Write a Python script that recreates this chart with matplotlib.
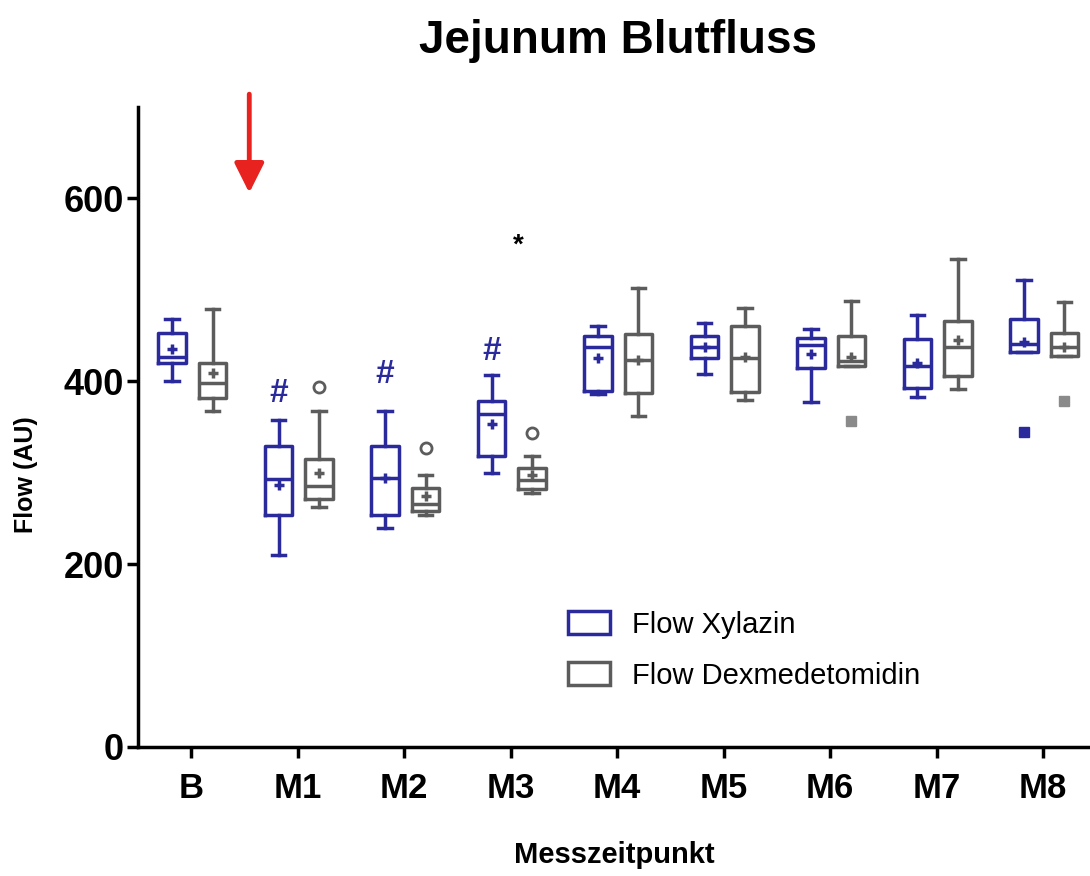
import matplotlib.pyplot as plt
from matplotlib.patches import Patch

plt.rcParams['font.family'] = ['Liberation Sans', 'DejaVu Sans']

zeitpunkte = ['B', 'M1', 'M2', 'M3', 'M4', 'M5', 'M6', 'M7', 'M8']

# Xylazin: whisker low, q1, median, q3, whisker high, mean
xyl_lo = [400, 210, 239, 300, 386, 408, 377, 383, 432]
xyl_q1 = [420, 254, 254, 318, 389, 425, 415, 393, 432]
xyl_med = [426, 293, 294, 364, 437, 437, 440, 417, 441]
xyl_q3 = [453, 329, 329, 378, 450, 450, 447, 446, 468]
xyl_hi = [468, 358, 368, 407, 460, 464, 457, 473, 511]
xyl_mean = [435, 287, 294, 353, 425, 437, 430, 420, 443]

# Dexmedetomidin
dex_lo = [367, 263, 254, 278, 362, 379, 417, 391, 428]
dex_q1 = [382, 271, 258, 282, 387, 388, 417, 406, 428]
dex_med = [398, 285, 266, 292, 423, 425, 422, 437, 437]
dex_q3 = [420, 315, 283, 305, 452, 460, 450, 466, 453]
dex_hi = [479, 368, 297, 318, 502, 480, 488, 534, 487]
dex_mean = [409, 300, 275, 297, 423, 427, 426, 445, 438]

# Ausreisser (index, wert, marker)
xyl_out = [(8, 345, 's')]
dex_out = [(1, 394, 'o'), (2, 327, 'o'), (3, 343, 'o'), (6, 356, 's'), (8, 378, 's')]

# Signifikanz
raute_idx = [1, 2, 3]
raute_y = [387, 407, 432]
stern_idx = 3
stern_y = 548

blau = '#2a2a9c'
grau = '#5c5c5c'

fig = plt.figure(figsize=(10.9, 8.76), dpi=100)
ax = fig.add_axes([0.1266, 0.1473, 0.8734, 0.7306])


def boxen(lo, q1, med, q3, hi, mean, pos, farbe):
    stats = []
    for i in range(len(lo)):
        stats.append(dict(whislo=lo[i], q1=q1[i], med=med[i], q3=q3[i],
                          whishi=hi[i], mean=mean[i], fliers=[]))
    lp = dict(color=farbe, linewidth=2.5)
    ax.bxp(stats, positions=pos, widths=0.26, showmeans=True,
           boxprops=lp, whiskerprops=lp, capprops=lp, medianprops=lp,
           meanprops=dict(marker='+', markeredgecolor=farbe, markersize=7,
                          markeredgewidth=2.5),
           manage_ticks=False)


x = list(range(len(zeitpunkte)))
boxen(xyl_lo, xyl_q1, xyl_med, xyl_q3, xyl_hi, xyl_mean,
      [i - 0.18 for i in x], blau)
boxen(dex_lo, dex_q1, dex_med, dex_q3, dex_hi, dex_mean,
      [i + 0.2 for i in x], grau)

for i, v, m in xyl_out:
    ax.plot(i - 0.18, v, marker=m, color=blau, markersize=7, ls='none')
for i, v, m in dex_out:
    if m == 'o':
        ax.plot(i + 0.2, v, marker='o', mfc='white', mec=grau, mew=2,
                markersize=8, ls='none')
    else:
        ax.plot(i + 0.2, v, marker=m, color='#8a8a8a', markersize=7, ls='none')

for i, v in zip(raute_idx, raute_y):
    ax.text(i - 0.18, v, '#', color=blau, fontsize=24, fontweight='bold',
            ha='center', va='center')
ax.text(stern_idx + 0.07, stern_y, '*', color='black', fontsize=20,
        ha='center', va='center', fontweight='bold')

# roter Pfeil
ax.annotate('', xy=(0.545, 603), xytext=(0.545, 717),
            arrowprops=dict(arrowstyle='-|>', color='#e8231f', lw=3.5,
                            mutation_scale=45),
            annotation_clip=False)

ax.set_xlim(-0.5, 8.44)
ax.set_ylim(0, 700)
ax.set_xticks(x)
ax.set_xticklabels(zeitpunkte, fontsize=25, fontweight='bold')
ax.set_yticks([0, 200, 400, 600])
ax.set_yticklabels(['0', '200', '400', '600'], fontsize=26, fontweight='bold')
ax.tick_params(axis='both', width=2.5, length=8, pad=2)
ax.tick_params(axis='x', pad=10)
for s in ['top', 'right']:
    ax.spines[s].set_visible(False)
for s in ['left', 'bottom']:
    ax.spines[s].set_linewidth(2.5)

ax.set_xlabel('Messzeitpunkt', fontsize=21, fontweight='bold', labelpad=26)
ax.set_ylabel('Flow (AU)', fontsize=18, fontweight='bold')
ax.yaxis.set_label_coords(-0.105, 0.425)
fig.suptitle('Jejunum Blutfluss', fontsize=33, fontweight='bold', x=0.567, y=0.978)

handles = [Patch(facecolor='none', edgecolor=blau, linewidth=2.5),
           Patch(facecolor='none', edgecolor=grau, linewidth=2.5)]
fig.legend(handles, ['Flow Xylazin', 'Flow Dexmedetomidin'], loc='upper left',
           bbox_to_anchor=(0.497, 0.333), frameon=False, fontsize=21,
           handlelength=1.45, handleheight=0.85, labelspacing=0.8, handletextpad=0.75)

fig.savefig('out.png', dpi=100)
